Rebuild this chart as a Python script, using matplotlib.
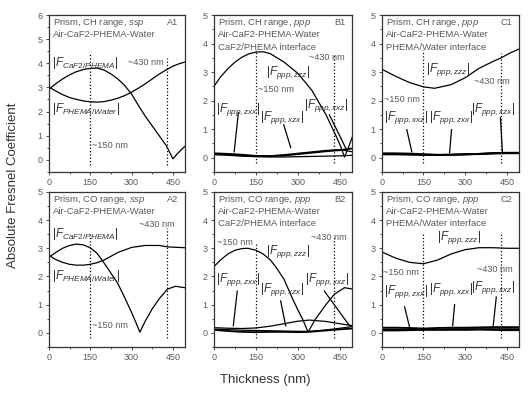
import numpy as np
import matplotlib
matplotlib.use('Agg')
import matplotlib.pyplot as plt
from matplotlib.ticker import MultipleLocator

plt.rcParams['font.family'] = ['Liberation Sans', 'DejaVu Sans']
plt.rcParams['mathtext.fontset'] = 'custom'
plt.rcParams['mathtext.it'] = 'Liberation Sans:italic'
plt.rcParams['mathtext.rm'] = 'Liberation Sans'

gray = '#5a5a5a'

# ---- data ----
# A1 : CH range, ssp
a1_x = [0, 25, 50, 75, 100, 125, 150, 175, 200, 225, 250, 275, 300, 325, 350, 375, 400, 425, 450, 470, 493]
a1_caf2 = [2.92, 3.15, 3.35, 3.52, 3.65, 3.74, 3.79, 3.8, 3.72, 3.56, 3.35, 3.08, 2.72, 2.25, 1.8, 1.4, 1.0, 0.6, 0.04, 0.3, 0.55]
a1_water = [3.02, 2.85, 2.7, 2.58, 2.5, 2.44, 2.4, 2.39, 2.41, 2.47, 2.55, 2.66, 2.8, 2.97, 3.15, 3.35, 3.55, 3.72, 3.88, 3.97, 4.05]

# A2 : CO range, ssp
a2_caf2_x = [0, 25, 50, 75, 100, 125, 150, 175, 200, 225, 250, 275, 300, 315, 330, 350, 375, 400, 430, 460, 493]
a2_caf2 = [2.68, 2.85, 3.0, 3.1, 3.15, 3.12, 3.02, 2.82, 2.48, 2.12, 1.75, 1.25, 0.72, 0.38, 0.02, 0.42, 0.85, 1.2, 1.55, 1.65, 1.6]
a2_water_x = [0, 25, 50, 75, 100, 125, 150, 175, 200, 250, 300, 350, 400, 430, 450, 493]
a2_water = [2.75, 2.6, 2.5, 2.43, 2.4, 2.4, 2.43, 2.49, 2.58, 2.85, 3.03, 3.1, 3.1, 3.05, 3.04, 3.02]

# B1 : CH range, ppp, CaF2/PHEMA interface
b1_zzz_x = [0, 25, 50, 75, 100, 125, 150, 175, 200, 250, 300, 350, 400, 430, 450, 466, 480, 495]
b1_zzz = [2.5, 2.85, 3.12, 3.35, 3.52, 3.64, 3.7, 3.71, 3.65, 3.35, 2.95, 2.35, 1.5, 0.88, 0.45, 0.02, 0.35, 0.75]
b1_x = [0, 50, 100, 150, 200, 250, 300, 350, 400, 450, 495]
b1_zxx = [0.15, 0.13, 0.1, 0.06, 0.05, 0.07, 0.12, 0.17, 0.22, 0.26, 0.32]
b1_xzx = [0.12, 0.1, 0.07, 0.05, 0.06, 0.1, 0.15, 0.2, 0.25, 0.28, 0.2]
b1_xxz = [0.1, 0.08, 0.05, 0.03, 0.02, 0.02, 0.03, 0.04, 0.05, 0.06, 0.08]

# B2 : CO range, ppp, CaF2/PHEMA interface
b2_zzz_x = [0, 25, 50, 75, 100, 120, 150, 175, 200, 220, 250, 280, 300, 318, 336, 360, 400, 430, 466, 495]
b2_zzz = [2.35, 2.6, 2.8, 2.93, 2.99, 3.0, 2.93, 2.8, 2.6, 2.35, 1.9, 1.22, 0.8, 0.45, 0.02, 0.45, 1.0, 1.37, 1.6, 1.55]
b2_x = [0, 50, 100, 150, 200, 250, 300, 340, 400, 450, 495]
b2_xzx = [0.18, 0.16, 0.15, 0.17, 0.23, 0.32, 0.41, 0.45, 0.4, 0.32, 0.25]
b2_zxx = [0.1, 0.06, 0.03, 0.02, 0.03, 0.03, 0.02, 0.03, 0.08, 0.12, 0.15]
b2_xxz = [0.13, 0.11, 0.09, 0.08, 0.07, 0.06, 0.05, 0.05, 0.1, 0.16, 0.22]

# C1 : CH range, ppp, PHEMA/Water interface
c1_x = [0, 50, 100, 150, 190, 250, 300, 350, 400, 430, 460, 492]
c1_zzz = [3.1, 2.85, 2.63, 2.48, 2.43, 2.56, 2.8, 3.13, 3.37, 3.5, 3.66, 3.8]
c1_sx = [0, 50, 100, 150, 200, 250, 300, 350, 400, 450, 492]
c1_xxz = [0.15, 0.15, 0.14, 0.12, 0.1, 0.1, 0.11, 0.13, 0.16, 0.17, 0.17]
c1_zxx = [0.13, 0.13, 0.12, 0.1, 0.09, 0.1, 0.12, 0.13, 0.15, 0.16, 0.16]
c1_xzx = [0.11, 0.11, 0.1, 0.09, 0.09, 0.1, 0.11, 0.12, 0.14, 0.15, 0.15]

# C2 : CO range, ppp, PHEMA/Water interface
c2_x = [0, 50, 100, 150, 200, 250, 300, 350, 400, 450, 492]
c2_zzz = [2.87, 2.65, 2.5, 2.45, 2.58, 2.8, 2.95, 3.02, 3.02, 3.0, 3.0]
c2_zxx = [0.18, 0.18, 0.17, 0.15, 0.17, 0.18, 0.18, 0.19, 0.2, 0.2, 0.2]
c2_xzx = [0.12, 0.12, 0.12, 0.12, 0.12, 0.13, 0.13, 0.13, 0.13, 0.13, 0.13]
c2_xxz = [0.08, 0.08, 0.09, 0.1, 0.1, 0.1, 0.1, 0.11, 0.1, 0.09, 0.09]

# ---- figure ----
fig = plt.figure(figsize=(5.31, 3.95), dpi=100)

cols = [(0.092, 0.256), (0.403, 0.260), (0.719, 0.258)]
rows = [(0.565, 0.397), (0.122, 0.392)]

axes = {}
for r, (bot, h) in enumerate(rows):
    for c, (left, w) in enumerate(cols):
        ax = fig.add_axes([left, bot, w, h])
        axes[(r, c)] = ax

def style(ax, ytop, ymax_tick):
    ax.set_xlim(0, 493)
    ax.set_ylim(-0.5, ytop)
    ax.xaxis.set_major_locator(MultipleLocator(150))
    ax.xaxis.set_minor_locator(MultipleLocator(75))
    ax.set_yticks(range(0, ymax_tick + 1))
    ax.yaxis.set_minor_locator(MultipleLocator(0.5))
    ax.tick_params(which='both', direction='out', labelsize=6.5, labelcolor=gray, color='#333333', width=0.6)
    ax.tick_params(which='major', length=2.5, pad=2)
    ax.tick_params(which='minor', length=1.5)
    for s in ax.spines.values():
        s.set_linewidth(0.9)
        s.set_color('#333333')

def header(ax, lines, tag):
    for i, ln in enumerate(lines):
        ax.text(0.03, 0.95 - i * 0.077, ln, transform=ax.transAxes, fontsize=6.8,
                color=gray, va='center', ha='left')
    ax.text(0.95, 0.95, tag, transform=ax.transAxes, fontsize=6.6, color=gray, va='center', ha='right')

def vlines(ax, top150, top430):
    ax.plot([150, 150], [-0.2, top150], ls=':', color='k', lw=0.9)
    ax.plot([430, 430], [-0.2, top430], ls=':', color='k', lw=0.9)

def flabel(ax, x, y, sub):
    ax.text(x, y, r'$|F_{%s}|$' % sub, fontsize=8.5, color='#333333', va='center', ha='left')

def note(ax, x, y, s):
    ax.text(x, y, s, fontsize=6.6, color=gray, va='center', ha='left')

def pointer(ax, x0, y0, x1, y1):
    ax.plot([x0, x1], [y0, y1], color='k', lw=0.9)

lw = 0.9

# A1
ax = axes[(0, 0)]
style(ax, 6, 6)
ax.plot(a1_x, a1_caf2, color='k', lw=lw)
ax.plot(a1_x, a1_water, color='k', lw=lw)
vlines(ax, 4.4, 4.2)
header(ax, ['Prism, CH range, $\\it{ssp}$', 'Air-CaF2-PHEMA-Water'], 'A1')
flabel(ax, 12, 4.0, 'CaF2/PHEMA')
flabel(ax, 12, 2.1, 'PHEMA/Water')
note(ax, 288, 4.05, '~430 nm')
note(ax, 155, 0.6, '~150 nm')

# A2
ax = axes[(1, 0)]
style(ax, 5, 5)
ax.plot(a2_caf2_x, a2_caf2, color='k', lw=lw)
ax.plot(a2_water_x, a2_water, color='k', lw=lw)
vlines(ax, 3.55, 3.73)
header(ax, ['Prism, CO range, $\\it{ssp}$', 'Air-CaF2-PHEMA-Water'], 'A2')
flabel(ax, 10, 3.5, 'CaF2/PHEMA')
flabel(ax, 10, 2.0, 'PHEMA/Water')
note(ax, 327, 3.85, '~430 nm')
note(ax, 158, 0.25, '~150 nm')

# B1
ax = axes[(0, 1)]
style(ax, 5, 5)
ax.plot(b1_zzz_x, b1_zzz, color='k', lw=lw)
ax.plot(b1_x, b1_zxx, color='k', lw=1.3)
ax.plot(b1_x, b1_xzx, color='k', lw=lw)
ax.plot(b1_x, b1_xxz, color='k', lw=lw)
vlines(ax, 3.78, 3.6)
header(ax, ['Prism, CH range, $\\it{ppp}$', 'Air-CaF2-PHEMA-Water', 'CaF2/PHEMA interface'], 'B1')
flabel(ax, 184, 3.0, 'ppp,zzz')
note(ax, 340, 3.5, '~430 nm')
note(ax, 158, 2.38, '~150 nm')
flabel(ax, 8, 1.68, 'ppp,zxx')
flabel(ax, 164, 1.4, 'ppp,xzx')
flabel(ax, 322, 1.82, 'ppp,xxz')
pointer(ax, 87, 1.57, 72, 0.2)
pointer(ax, 249, 1.15, 274, 0.35)
pointer(ax, 412, 1.5, 473, 0.28)

# B2
ax = axes[(1, 1)]
style(ax, 5, 5)
ax.plot(b2_zzz_x, b2_zzz, color='k', lw=lw)
ax.plot(b2_x, b2_xzx, color='k', lw=lw)
ax.plot(b2_x, b2_zxx, color='k', lw=1.3)
ax.plot(b2_x, b2_xxz, color='k', lw=lw)
vlines(ax, 3.24, 3.48)
header(ax, ['Prism, CO range, $\\it{ppp}$', 'Air-CaF2-PHEMA-Water', 'CaF2/PHEMA interface'], 'B2')
note(ax, 12, 3.2, '~150 nm')
flabel(ax, 184, 2.9, 'ppp,zzz')
note(ax, 347, 3.4, '~430 nm')
flabel(ax, 8, 1.9, 'ppp,zxx')
flabel(ax, 164, 1.55, 'ppp,xzx')
flabel(ax, 326, 1.9, 'ppp,xxz')
pointer(ax, 83, 1.48, 69, 0.25)
pointer(ax, 238, 1.13, 256, 0.25)
pointer(ax, 394, 1.48, 484, 0.25)

# C1
ax = axes[(0, 2)]
style(ax, 5, 5)
ax.plot(c1_x, c1_zzz, color='k', lw=lw)
ax.plot(c1_sx, c1_xxz, color='k', lw=1.3)
ax.plot(c1_sx, c1_zxx, color='k', lw=1.3)
ax.plot(c1_sx, c1_xzx, color='k', lw=1.3)
vlines(ax, 3.78, 3.67)
header(ax, ['Prism, CH range, $\\it{ppp}$', 'Air-CaF2-PHEMA-Water', 'PHEMA/Water interface'], 'C1')
flabel(ax, 160, 3.08, 'ppp,zzz')
note(ax, 333, 2.66, '~430 nm')
note(ax, 8, 2.03, '~150 nm')
flabel(ax, 8, 1.4, 'ppp,xxz')
flabel(ax, 170, 1.4, 'ppp,zxx')
flabel(ax, 322, 1.68, 'ppp,xzx')
pointer(ax, 90, 0.98, 108, 0.2)
pointer(ax, 251, 0.98, 244, 0.17)
pointer(ax, 427, 1.4, 434, 0.2)

# C2
ax = axes[(1, 2)]
style(ax, 5, 5)
ax.plot(c2_x, c2_zzz, color='k', lw=lw)
ax.plot(c2_x, c2_zxx, color='k', lw=1.3)
ax.plot(c2_x, c2_xzx, color='k', lw=1.3)
ax.plot(c2_x, c2_xxz, color='k', lw=1.3)
vlines(ax, 3.55, 3.55)
header(ax, ['Prism, CO range, $\\it{ppp}$', 'Air-CaF2-PHEMA-Water', 'PHEMA/Water interface'], 'C2')
flabel(ax, 198, 3.38, 'ppp,zzz')
note(ax, 5, 2.15, '~150 nm')
note(ax, 341, 2.25, '~430 nm')
flabel(ax, 8, 1.48, 'ppp,zxx')
flabel(ax, 170, 1.55, 'ppp,xzx')
flabel(ax, 322, 1.62, 'ppp,xxz')
pointer(ax, 82, 0.92, 100, 0.2)
pointer(ax, 262, 1.0, 255, 0.25)
pointer(ax, 412, 1.27, 401, 0.25)

fig.text(0.024, 0.53, 'Absolute Fresnel Coefficient', rotation=90, fontsize=9.5,
         color='#333333', ha='center', va='center')
fig.text(0.5, 0.038, 'Thickness (nm)', fontsize=9.5, color='#333333', ha='center', va='center')

fig.savefig('out.png', dpi=100)
